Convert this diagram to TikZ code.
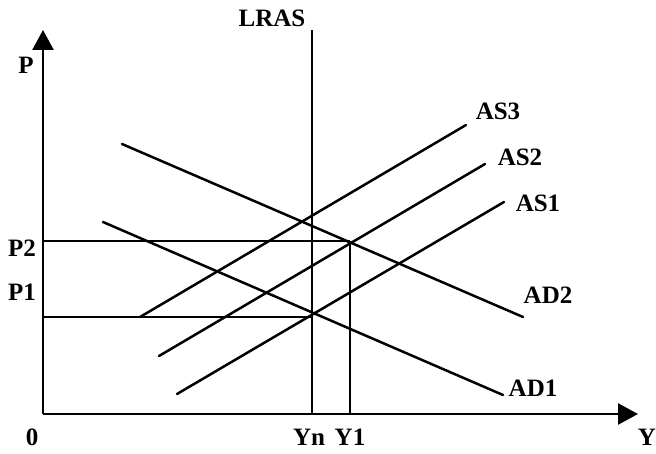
\documentclass[tikz,border=0pt]{standalone}
\usepackage{fontspec}
\setmainfont{Liberation Serif}
\usetikzlibrary{arrows.meta}
\begin{document}
\begin{tikzpicture}[x=1pt,y=-1pt,
  curve/.style={line width=2.5pt,line cap=round},
  guide/.style={line width=2.3pt},
  axis/.style={line width=2.5pt,-{Triangle[width=21pt,length=20pt]}},
  lbl/.style={inner sep=0pt,font=\fontsize{25}{27}\selectfont\bfseries}]
\useasboundingbox (0,0) rectangle (656,454);
% axes
\coordinate (O) at (43,414);
\coordinate (ytop) at (43,30);
\coordinate (xend) at (638,414);
\draw[axis] (O) -- (ytop);
\draw[axis] (O) -- (xend);
% LRAS and Y1
\coordinate (lrasT) at (312,30);
\coordinate (lrasB) at (312,414);
\coordinate (y1T) at (350,241);
\coordinate (y1B) at (350,414);
\draw[guide] (lrasT) -- (lrasB);
\draw[guide] (y1B) -- (y1T);
% price guides
\coordinate (p2L) at (43,241);
\coordinate (p1L) at (43,317);
\coordinate (p1R) at (312,317);
\draw[guide] (p2L) -- (y1T);
\draw[guide] (p1L) -- (p1R);
% AD curves
\coordinate (ad2a) at (122,144);
\coordinate (ad2b) at (523,317);
\coordinate (ad1a) at (103,222);
\coordinate (ad1b) at (503,395);
\draw[curve] (ad2a) -- (ad2b);
\draw[curve] (ad1a) -- (ad1b);
% AS curves
\coordinate (as3a) at (140,317);
\coordinate (as3b) at (466,125);
\coordinate (as2a) at (159,356);
\coordinate (as2b) at (485,164);
\coordinate (as1a) at (177,394);
\coordinate (as1b) at (504,202);
\draw[curve] (as3a) -- (as3b);
\draw[curve] (as2a) -- (as2b);
\draw[curve] (as1a) -- (as1b);
% labels
\node[lbl] (lP) at (26,65) {P};
\node[lbl] (lLRAS) at (272,18) {LRAS};
\node[lbl] (lP2) at (22,248) {P2};
\node[lbl] (lP1) at (22,292) {P1};
\node[lbl] (l0) at (32,437) {0};
\node[lbl] (lYn) at (309,437) {Yn};
\node[lbl] (lY1) at (350,437) {Y1};
\node[lbl] (lY) at (647,437) {Y};
\node[lbl] (lAS3) at (498,111) {AS3};
\node[lbl] (lAS2) at (520,157) {AS2};
\node[lbl] (lAS1) at (538,203) {AS1};
\node[lbl] (lAD2) at (548,295) {AD2};
\node[lbl] (lAD1) at (533,388) {AD1};
\end{tikzpicture}
\end{document}
